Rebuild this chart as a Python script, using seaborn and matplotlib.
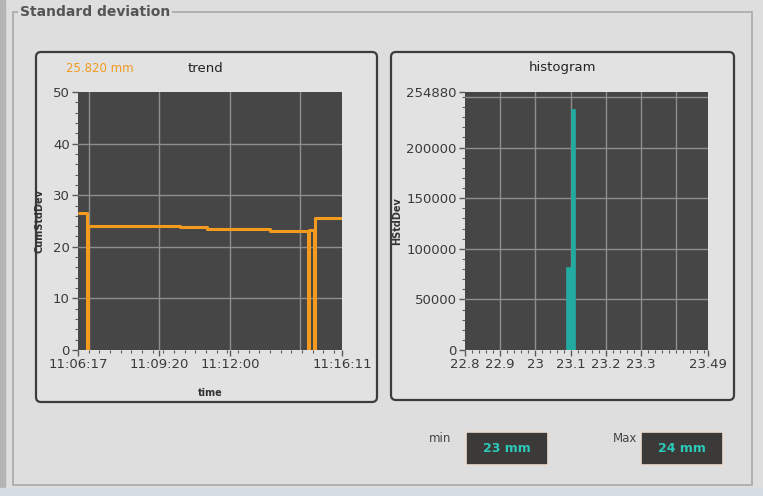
import numpy as np
import pandas as pd
import matplotlib
matplotlib.use("Agg")
import matplotlib.pyplot as plt
from matplotlib.patches import FancyBboxPatch, Rectangle
from matplotlib.ticker import MultipleLocator
import seaborn as sns

# trend data (time stamp, cumulative std dev)
trend_time = ["11:06:19", "11:06:37", "11:06:37", "11:06:39", "11:06:39", "11:10:06",
              "11:10:06", "11:11:07", "11:11:07", "11:13:29", "11:13:29", "11:14:54",
              "11:14:54", "11:14:56", "11:14:56", "11:15:07", "11:15:07", "11:15:10",
              "11:15:10", "11:16:11"]
trend_value = [26.5, 26.5, 0, 0, 24.1, 24.1,
               23.8, 23.8, 23.4, 23.4, 23.1, 23.1,
               0, 0, 23.3, 23.3, 0, 0,
               25.5, 25.5]
t_start, t_end = "11:06:17", "11:16:11"
time_ticks = ["11:06:17", "11:09:20", "11:12:00", "11:16:11"]
time_grid = ["11:06:41", "11:09:20", "11:12:00", "11:14:37"]
current_value = "25.820 mm"

# histogram data
hist_edges = [23.088, 23.100, 23.112]
hist_counts = [82000, 238000]
hist_xticks = [22.8, 22.9, 23.0, 23.1, 23.2, 23.3, 23.49]
hist_xtick_labels = ["22.8", "22.9", "23", "23.1", "23.2", "23.3", "23.49"]
hist_xgrid = [22.9, 23.0, 23.1, 23.2, 23.3, 23.4]
hist_ymax = 254880
hist_yticks = [0, 50000, 100000, 150000, 200000, 254880]
hist_ygrid = [50000, 100000, 150000, 200000, 250000]
min_text, max_text = "23 mm", "24 mm"

W, H = 763, 496
ORANGE = "#f39a1f"
TEAL = "#22aba0"
PLOT_BG = "#464646"
GRID = "#8e8e8e"

sns.set_style("white")
plt.rcParams["font.family"] = ["DejaVu Sans"]

fig = plt.figure(figsize=(W / 100, H / 100), dpi=100, facecolor="#dedede")

# background drawing layer in pixel coordinates
bg = fig.add_axes([0, 0, 1, 1])
bg.set_xlim(0, W)
bg.set_ylim(H, 0)
bg.axis("off")
bg.set_zorder(0)
bg.add_patch(Rectangle((0, 0), 5, H, color="#b4b4b4"))
bg.add_patch(Rectangle((0, 488), W, 8, color="#d6dde2"))
bg.add_patch(Rectangle((13, 12), 739, 473, fill=False, ec="#a9a9a9", lw=1.2))
bg.text(20, 12, "Standard deviation", fontsize=10, fontweight="bold", color="#555555",
        va="center", ha="left", bbox=dict(fc="#dedede", ec="none", pad=1.5))
for x0, x1, y1 in [(36, 377, 402), (391, 734, 400)]:
    bg.add_patch(FancyBboxPatch((x0, 52), x1 - x0, y1 - 52,
                                boxstyle="round,pad=0,rounding_size=5",
                                fc="#e2e2e2", ec="#3c3c3c", lw=1.6))
bg.text(100, 69, current_value, fontsize=8.5, color=ORANGE, ha="center", va="center")
bg.text(206, 68, "trend", fontsize=9.5, color="#222222", ha="center", va="center")
bg.text(563, 68, "histogram", fontsize=9.5, color="#222222", ha="center", va="center")

bg.text(440, 438, "min", fontsize=8.5, color="#444444", ha="center", va="center")
bg.text(625, 438, "Max", fontsize=8.5, color="#444444", ha="center", va="center")
for x0, txt in [(466, min_text), (641, max_text)]:
    bg.add_patch(Rectangle((x0, 432), 82, 33, fc="#3c3a38", ec="#eadbd0", lw=1.2))
    bg.text(x0 + 41, 449, txt, fontsize=9, fontweight="bold", color="#2cc8b8",
            ha="center", va="center")


def secs(ts):
    return (pd.to_timedelta(pd.Series(ts)) - pd.to_timedelta(t_start)).dt.total_seconds().values


def style_axis(ax):
    ax.set_facecolor(PLOT_BG)
    for s in ax.spines.values():
        s.set_visible(False)
    ax.tick_params(which="both", bottom=True, left=True, direction="out",
                   color="#5a5a5a", labelcolor="#3a3a3a", labelsize=9.5, pad=2)
    ax.tick_params(which="major", length=4, width=1)
    ax.tick_params(which="minor", length=2.5, width=0.8)
    ax.set_zorder(1)


# trend plot
ax1 = fig.add_axes([78 / W, 1 - 350 / H, 264 / W, 258 / H])
style_axis(ax1)
trend = pd.DataFrame({"t": secs(trend_time), "v": trend_value})
for g in secs(time_grid):
    ax1.axvline(g, color=GRID, lw=1, zorder=0)
for g in [10, 20, 30, 40]:
    ax1.axhline(g, color=GRID, lw=1, zorder=0)
sns.lineplot(data=trend, x="t", y="v", estimator=None, sort=False, color=ORANGE,
             lw=2.2, ax=ax1, zorder=3)
ax1.set_xlim(0, secs([t_end])[0])
ax1.set_ylim(0, 50)
ax1.set_xticks(secs(time_ticks))
ax1.set_xticklabels(time_ticks)
ax1.xaxis.set_minor_locator(MultipleLocator(24))
ax1.set_yticks([0, 10, 20, 30, 40, 50])
ax1.yaxis.set_minor_locator(MultipleLocator(2))
ax1.set_xlabel("time", fontsize=7, fontweight="bold", color="#333333")
ax1.set_ylabel("CumStdDev", fontsize=7, fontweight="bold", color="#333333")
ax1.xaxis.set_label_coords(0.5, -0.147)
ax1.yaxis.set_label_coords(-0.125, 0.5)

# histogram plot
ax2 = fig.add_axes([465 / W, 1 - 350 / H, 243 / W, 258 / H])
style_axis(ax2)
for g in hist_xgrid:
    ax2.axvline(g, color=GRID, lw=1, zorder=0)
for g in hist_ygrid:
    ax2.axhline(g, color=GRID, lw=1, zorder=0)
centers = [(a + b) / 2 for a, b in zip(hist_edges[:-1], hist_edges[1:])]
sns.histplot(x=centers, weights=hist_counts, bins=hist_edges, color=TEAL, alpha=1,
             edgecolor=TEAL, linewidth=0.5, ax=ax2, zorder=3)
ax2.set_xlim(22.8, 23.49)
ax2.set_ylim(0, hist_ymax)
ax2.set_xticks(hist_xticks)
ax2.set_xticklabels(hist_xtick_labels)
ax2.xaxis.set_minor_locator(MultipleLocator(0.02))
ax2.set_yticks(hist_yticks)
ax2.set_yticklabels([str(v) for v in hist_yticks])
ax2.yaxis.set_minor_locator(MultipleLocator(10000))
ax2.set_xlabel("")
ax2.set_ylabel("HStdDev", fontsize=7, fontweight="bold", color="#333333")
ax2.yaxis.set_label_coords(-0.26, 0.5)

fig.savefig("out.png", dpi=100, facecolor=fig.get_facecolor())
